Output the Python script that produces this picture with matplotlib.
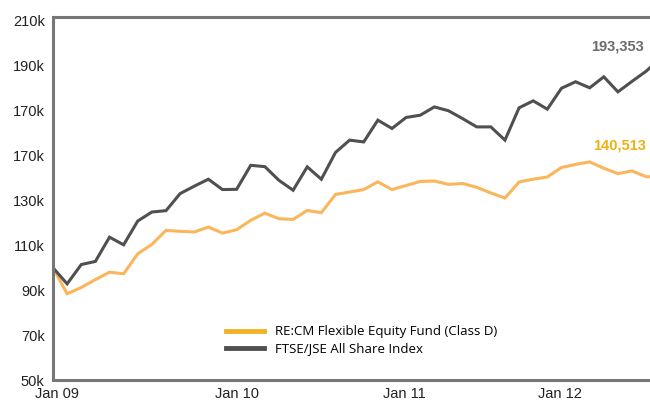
import matplotlib
matplotlib.use("Agg")
import matplotlib.pyplot as plt
from matplotlib.lines import Line2D

# monthly index from Jan 2009 (last point sits just past the visible edge)
months = list(range(44))

fund = [100.0, 88.4, 91.2, 94.7, 98.0, 97.3, 106.2, 110.4, 116.6, 116.2,
        115.9, 118.1, 115.4, 116.9, 121.1, 124.3, 121.8, 121.5, 125.5, 124.5,
        132.6, 133.7, 134.8, 138.2, 134.8, 136.6, 138.4, 138.6, 137.1, 137.5,
        135.8, 133.3, 131.0, 138.2, 139.4, 140.4, 144.6, 146.0, 147.1, 144.3,
        141.9, 143.1, 140.5, 140.513]

index = [100.0, 92.8, 101.4, 102.8, 113.6, 110.2, 120.8, 124.8, 125.4, 133.0,
         136.3, 139.4, 134.8, 134.9, 145.6, 145.0, 138.9, 134.5, 144.9, 139.4,
         151.3, 156.8, 156.0, 165.7, 162.0, 166.9, 167.9, 171.6, 169.9, 166.4,
         162.7, 162.7, 156.8, 171.2, 174.3, 170.6, 179.9, 182.8, 180.1, 185.0,
         178.3, 183.0, 187.5, 193.353]

ytick_vals = [50, 70, 90, 110, 130, 150, 170, 190, 210]
ytick_labels = ["50k", "70k", "90k", "110k", "130k", "170k", "170k", "190k", "210k"]

xtick_pos = [0.3, 13.05, 24.9, 35.9]
xtick_labels = ["Jan 09", "Jan 10", "Jan 11", "Jan 12"]

fund_name = "RE:CM Flexible Equity Fund (Class D)"
index_name = "FTSE/JSE All Share Index"

orange = "#fbb65c"
orange_dark = "#f0b323"
grey = "#505050"
frame = "#777777"

plt.rcParams['font.family'] = ['Liberation Sans', 'DejaVu Sans']

fig = plt.figure(figsize=(6.5, 4.01), dpi=100)
ax = fig.add_axes([53 / 650, 21 / 401, 1 - 53 / 650, (380 - 17.3) / 401])

ax.plot(months, fund, color=orange, linewidth=2.2, solid_joinstyle='miter')
ax.plot(months, index, color=grey, linewidth=2.2, solid_joinstyle='miter')

ax.set_xlim(0, 42.27)
ax.set_ylim(50, 211.5)

ax.set_yticks(ytick_vals, ytick_labels)
ax.set_xticks(xtick_pos, xtick_labels)
ax.tick_params(axis='both', length=0, labelsize=10.5, colors='#222222')
ax.tick_params(axis='y', pad=6)
ax.tick_params(axis='x', pad=5)

for side in ['left', 'top', 'bottom']:
    ax.spines[side].set_color(frame)
    ax.spines[side].set_linewidth(2.2)
ax.spines['right'].set_visible(False)

# end value labels
ax.text(39.96, 198.7, "193,353", color="#6b6b6b", fontsize=10.5,
        fontweight='bold', ha='center', va='center')
ax.text(40.1, 154.5, "140,513", color="#efb110", fontsize=10.5,
        fontweight='bold', ha='center', va='center')

handles = [Line2D([], [], color=orange_dark, linewidth=3.5),
           Line2D([], [], color=grey, linewidth=3.5)]
ax.legend(handles, [fund_name, index_name], loc='lower left',
          bbox_to_anchor=(0.27, 0.035), frameon=False, handlelength=2.9,
          handletextpad=0.8, labelspacing=0.3,
          prop={'family': ['Open Sans', 'DejaVu Sans'], 'size': 9.5})

fig.savefig("out.png", dpi=100)
